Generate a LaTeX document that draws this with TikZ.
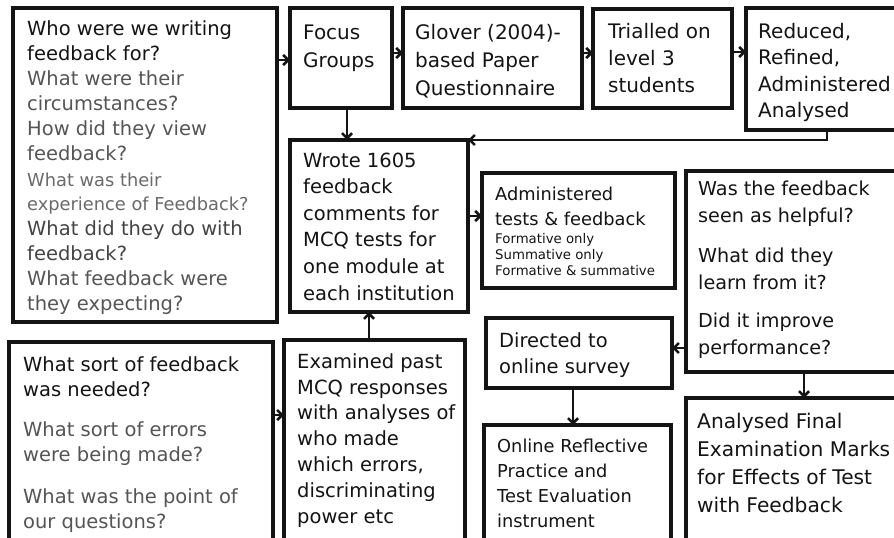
\documentclass[tikz,border=0pt]{standalone}
\usepackage{fontspec}
\setmainfont{DejaVu Sans}
\usetikzlibrary{arrows.meta,calc}
\definecolor{ink}{HTML}{141414}
\definecolor{greyA}{HTML}{555555}
\definecolor{greyB}{HTML}{6A6A6A}
\definecolor{greyC}{HTML}{444444}
\newcommand{\mkbox}[5]{\node[boxsty, minimum width=#4pt-#2pt, minimum height=#5pt-#3pt] (#1) at (#2,#3) {};}
\begin{document}
\begin{tikzpicture}[x=1pt,y=-1pt,
  boxsty/.style={draw=ink, line width=3.2pt, inner sep=0pt, outer sep=0pt, anchor=north west},
  txt/.style={inner sep=0pt, align=left, text=ink, anchor=base west, font=\fontsize{19.5}{25}\selectfont},
  arr/.style={draw=ink, line width=2.6pt, -{Straight Barb[length=5pt,width=10pt]}}]
\clip (0,0) rectangle (894,538);
\fill[white] (0,0) rectangle (894,538);
% boxes
\mkbox{A}{13}{8}{277}{322}
\mkbox{B}{290}{8}{392}{108}
\mkbox{C}{403}{8}{582}{108}
\mkbox{D}{593}{9}{732}{108}
\mkbox{E}{746}{8}{900}{130}
\mkbox{F}{290}{140}{468}{312}
\mkbox{G}{482}{173}{675}{288}
\mkbox{H}{686}{171}{900}{372}
\mkbox{M}{486}{318}{672}{388}
\mkbox{I}{284}{340}{465}{560}
\mkbox{J}{9}{342}{273}{560}
\mkbox{K}{484}{425}{671}{560}
\mkbox{L}{686}{398}{900}{560}
% texts box A (positions are the baseline of the last line)
\node[txt] (a1) at (27,60) {Who were we writing\\feedback for?};
\node[txt, text=greyA] (a2) at (27,110) {What were their\\circumstances?};
\node[txt, text=greyA] (a3) at (27,160) {How did they view\\feedback?};
\node[txt, text=greyB, font=\fontsize{17.8}{24}\selectfont] (a4) at (27,210) {What was their\\experience of Feedback?};
\node[txt, text=greyC] (a5) at (27,260) {What did they do with\\feedback?};
\node[txt, text=greyA] (a6) at (27,310) {What feedback were\\they expecting?};
% top row
\node[txt, font=\fontsize{20}{28}\selectfont] (tB) at (303,67) {Focus\\Groups};
\node[txt, font=\fontsize{20}{28}\selectfont] (tC) at (415,95) {Glover (2004)-\\based Paper\\Questionnaire};
\node[txt, font=\fontsize{20}{27}\selectfont] (tD) at (608,92) {Trialled on\\level 3\\students};
\node[txt, font=\fontsize{20}{26.5}\selectfont] (tE) at (758,117.5) {Reduced,\\Refined,\\Administered\\Analysed};
% middle
\node[txt, font=\fontsize{19.5}{26.6}\selectfont] (tF) at (303,300) {Wrote 1605\\feedback\\comments for\\MCQ tests for\\one module at\\each institution};
\node[txt, font=\fontsize{17.8}{25}\selectfont] (tG) at (495,225) {Administered\\tests \& feedback};
\node[txt, font=\fontsize{13.3}{16}\selectfont] (tG2) at (495,275) {Formative only\\Summative only\\Formative \& summative};
\node[txt, font=\fontsize{19.2}{27}\selectfont] (h1) at (698,222) {Was the feedback\\seen as helpful?};
\node[txt, font=\fontsize{19.2}{27}\selectfont] (h2) at (698,289) {What did they\\learn from it?};
\node[txt, font=\fontsize{19.2}{27}\selectfont] (h3) at (698,354) {Did it improve\\performance?};
% bottom
\node[txt, font=\fontsize{19.5}{26}\selectfont] (tM) at (499,373) {Directed to\\online survey};
\node[txt, font=\fontsize{19.5}{25.8}\selectfont] (tI) at (297,523) {Examined past\\MCQ responses\\with analyses of\\who made\\which errors,\\discriminating\\power etc};
\node[txt, font=\fontsize{17.8}{25}\selectfont] (tK) at (497,527) {Online Reflective\\Practice and\\Test Evaluation\\instrument};
\node[txt, font=\fontsize{20.2}{28}\selectfont] (tL) at (697,512) {Analysed Final\\Examination Marks\\for Effects of Test\\with Feedback};
\node[txt] (j1) at (23,396) {What sort of feedback\\was needed?};
\node[txt, text=greyA] (j2) at (23,461) {What sort of errors\\were being made?};
\node[txt, text=greyA] (j3) at (23,528) {What was the point of\\our questions?};
% connectors
\coordinate (ab) at ($(B.north west)+(0,52)$);
\draw[arr] (A.east |- ab) -- (ab);
\coordinate (bc) at ($(C.north west)+(0,45)$);
\draw[arr] (B.east |- bc) -- (bc);
\coordinate (cd) at ($(D.north west)+(0,44)$);
\draw[arr] (C.east |- cd) -- (cd);
\coordinate (de) at ($(E.north west)+(0,44)$);
\draw[arr] (D.east |- de) -- (de);
\coordinate (eb) at ($(E.south west)+(81,0)$);
\draw[arr] (eb) |- (F.north east);
\coordinate (bf) at ($(F.north west)+(57,0)$);
\draw[arr] (B.south -| bf) -- (bf);
\coordinate (fg) at ($(G.north west)+(0,43)$);
\draw[arr] (F.east |- fg) -- (fg);
\coordinate (if) at ($(F.south west)+(79,0)$);
\draw[arr] (I.north -| if) -- (if);
\coordinate (ji) at ($(I.north west)+(0,75)$);
\draw[arr] (J.east |- ji) -- (ji);
\coordinate (hm) at ($(M.north east)+(0,30)$);
\draw[arr] (H.west |- hm) -- (hm);
\coordinate (mk) at ($(K.north west)+(89,0)$);
\draw[arr] (M.south -| mk) -- (mk);
\coordinate (hl) at ($(L.north west)+(118,0)$);
\draw[arr] (H.south -| hl) -- (hl);
\end{tikzpicture}
\end{document}
